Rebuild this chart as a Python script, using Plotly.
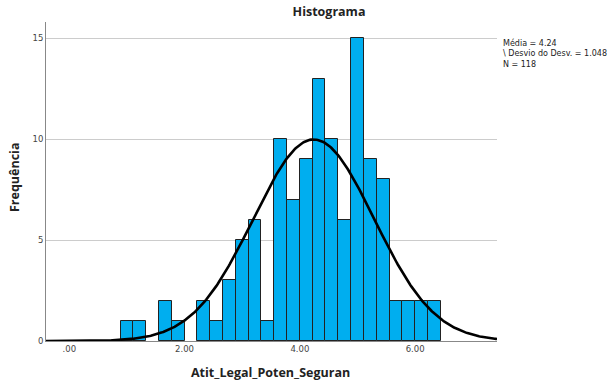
import math
import plotly.graph_objects as go

# Histogram counts for Atit_Legal_Poten_Seguran (bins of width 2/9, first centred at 1.00)
BIN_WIDTH = 2 / 9
FIRST_CENTER = 1.0
counts = [1, 1, 0, 2, 1, 0, 2, 1, 3, 5, 6, 1, 10, 7, 9, 13, 10, 6, 15, 9, 8, 2, 2, 2, 2]

# Summary statistics
MEAN = 4.24
SD = 1.048
N = 118

x_tick_vals = [0, 2, 4, 6]
x_tick_text = [".00", "2.00", "4.00", "6.00"]
y_tick_vals = [0, 5, 10, 15]

X_RANGE = [-0.404, 7.42]
Y_RANGE = [0, 15.8]

centers = [FIRST_CENTER + i * BIN_WIDTH for i in range(len(counts))]
bar_x = [c for c, n in zip(centers, counts) if n > 0]
bar_y = [n for n in counts if n > 0]

# Normal curve scaled to the histogram (N * bin width * pdf)
steps = 400
curve_x = [X_RANGE[0] + (X_RANGE[1] - X_RANGE[0]) * i / steps for i in range(steps + 1)]
curve_y = [N * BIN_WIDTH / (SD * math.sqrt(2 * math.pi)) * math.exp(-0.5 * ((v - MEAN) / SD) ** 2)
           for v in curve_x]

fig = go.Figure()
fig.add_trace(go.Bar(
    x=bar_x, y=bar_y, width=BIN_WIDTH,
    marker=dict(color="#00AEEF", line=dict(color="#222222", width=1)),
    hoverinfo="x+y",
))
fig.add_trace(go.Scatter(
    x=curve_x, y=curve_y, mode="lines",
    line=dict(color="black", width=2.6), hoverinfo="skip",
))

FONT = "DejaVu Sans"
TITLE_FONT = "Open Sans"
fig.update_layout(
    width=613, height=387,
    margin=dict(l=46, r=116, t=22, b=46),
    paper_bgcolor="white", plot_bgcolor="white",
    showlegend=False,
    font=dict(family=FONT, color="#333333"),
    title=dict(text="<b>Histograma</b>", x=329 / 613, xanchor="center",
               y=1 - 12 / 387, yanchor="middle",
               font=dict(family=TITLE_FONT, size=12.5, color="#222222")),
    xaxis=dict(range=X_RANGE, tickvals=x_tick_vals, ticktext=x_tick_text,
               showgrid=False, zeroline=False, showline=True, linecolor="#888888",
               linewidth=1, ticks="", tickfont=dict(size=8.5, color="#444444")),
    yaxis=dict(range=Y_RANGE, tickvals=y_tick_vals, showgrid=True, gridcolor="#cccccc",
               gridwidth=1, zeroline=False, showline=True, linecolor="#888888",
               linewidth=1, ticks="", tickfont=dict(size=8.5, color="#444444")),
    bargap=0,
)

# Axis titles
fig.add_annotation(
    xref="paper", yref="paper", x=(270.5 - 46) / 451, y=(341 - 372.7) / 319,
    xanchor="center", yanchor="middle", showarrow=False,
    text="<b>Atit_Legal_Poten_Seguran</b>",
    font=dict(family=TITLE_FONT, size=12.5, color="#222222"),
)
fig.add_annotation(
    xref="paper", yref="paper", x=(14 - 46) / 451, y=(341 - 178) / 319,
    xanchor="center", yanchor="middle", showarrow=False, textangle=-90,
    text="<b>Frequência</b>",
    font=dict(family=TITLE_FONT, size=12.5, color="#222222"),
)

# Summary statistics box
fig.add_annotation(
    xref="paper", yref="paper", x=(501 - 46) / 451, y=1 - (36.5 - 22) / 319,
    xanchor="left", yanchor="top", align="left", showarrow=False,
    text=f"Média = {MEAN}<br>\\ Desvio do Desv. = {SD:.3f}<br>N = {N}",
    font=dict(family=FONT, size=8, color="#222222"),
)

fig.write_html("out.html")
